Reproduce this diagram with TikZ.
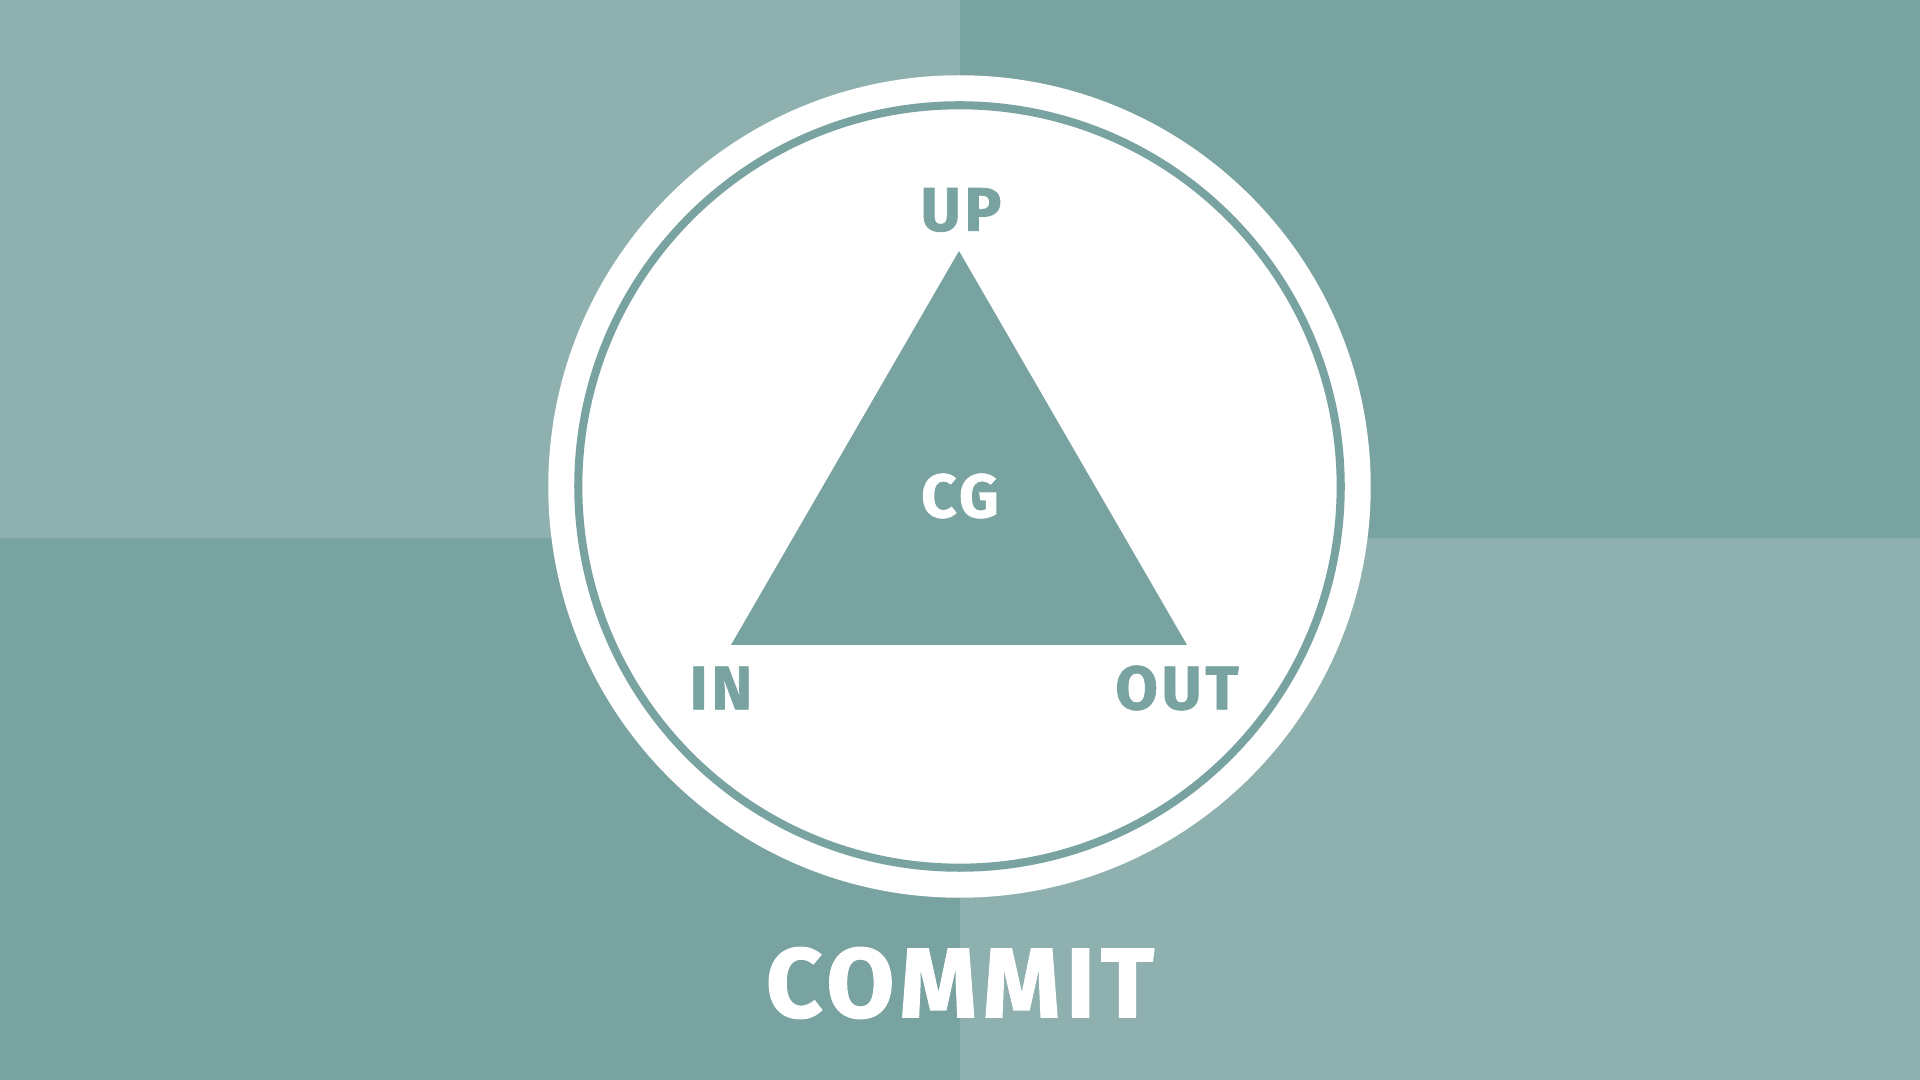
\documentclass[tikz,border=0pt]{standalone}
\usepackage{fontspec}
\usepackage{tikz}
\newfontfamily\tagfont{Fira Sans}[LetterSpace=6,BoldFeatures={FakeBold=1.3}]
\definecolor{sagelight}{HTML}{8EB1B0}
\definecolor{sagedark}{HTML}{79A3A1}

\begin{document}
\begin{tikzpicture}[x=0.01cm,y=-0.01cm]
            \tikzstyle{tag}=[inner sep=0pt,font=\tagfont\bfseries\fontsize{17.5}{20}\selectfont]
            \tikzstyle{title}=[inner sep=0pt,text=white,font=\tagfont\bfseries\fontsize{28}{32}\selectfont]

            % background quarters
            \fill[sagelight] (0,0) rectangle (960,538);
            \fill[sagedark] (960,0) rectangle (1920,538);
            \fill[sagedark] (0,538) rectangle (960,1080);
            \fill[sagelight] (960,538) rectangle (1920,1080);
            \useasboundingbox (0,0) rectangle (1920,1080);

            \node[circle,fill=white,minimum size=8.22cm,inner sep=0pt] (disc) at (959.5,486.5) {};
            \node[circle,draw=sagedark,line width=2.3pt,minimum size=7.62cm,inner sep=0pt] (ring) at (disc) {};

            \coordinate (apex) at (959,251);
            \coordinate (left) at (731,645);
            \coordinate (right) at (1187,645);
            \fill[sagedark] (apex) -- (left) -- (right) -- cycle;

            \foreach \name/\txt/\x/\y in {up/UP/961/210, in/IN/721/688, out/OUT/1177/688}
                    \node[tag,text=sagedark] (V-\name) at (\x,\y) {\txt};
            \node[tag,text=white] (V-cg) at (960,496) {CG};

            \node[title] (commit) at (960,983) {COMMIT};
        \end{tikzpicture}
\end{document}
